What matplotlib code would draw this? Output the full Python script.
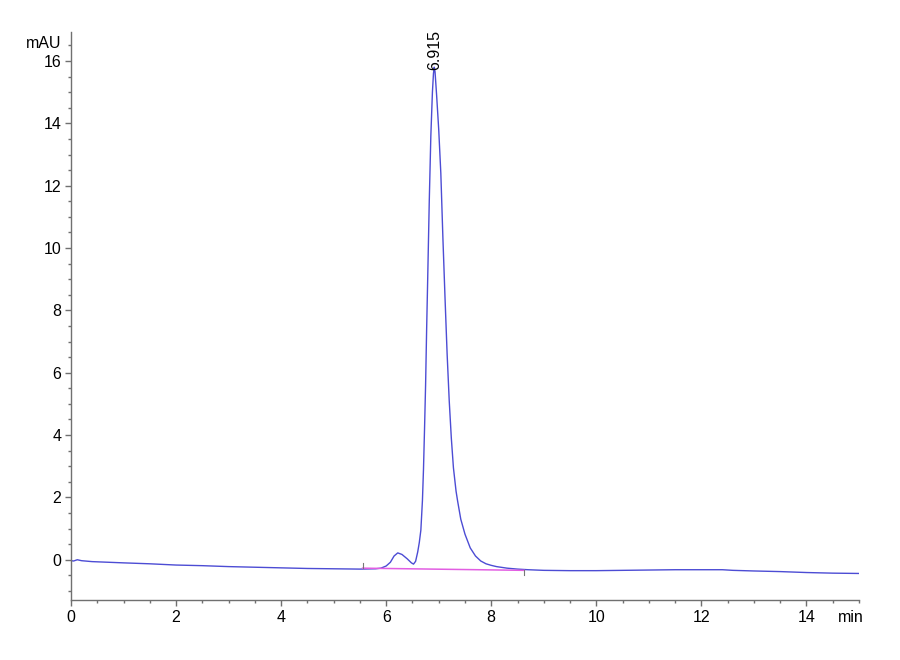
import matplotlib
matplotlib.use('Agg')
import matplotlib.pyplot as plt
from matplotlib.ticker import MultipleLocator

plt.rcParams['font.family'] = ['Liberation Sans Narrow', 'Liberation Sans', 'DejaVu Sans']

#chromatogram points (min, mAU)
time_min = [0.0, 0.05, 0.12, 0.2, 0.4, 0.7, 1.0, 1.5, 2.0, 2.5, 3.0, 3.5, 4.0, 4.5, 5.0, 5.5,
            5.8, 5.9, 6.0, 6.08, 6.15, 6.22, 6.3, 6.4, 6.48, 6.52, 6.56, 6.6, 6.63, 6.66, 6.69,
            6.71, 6.73, 6.75, 6.77, 6.79, 6.82, 6.85, 6.88, 6.90, 6.915, 6.93, 6.96, 7.0, 7.04,
            7.08, 7.12, 7.16, 7.2, 7.24, 7.28, 7.33, 7.36, 7.42, 7.5, 7.6, 7.7, 7.8, 7.9, 8.0,
            8.1, 8.3, 8.5, 8.7, 9.0, 9.5, 10.0, 10.5, 11.0, 11.5, 12.0, 12.4, 12.6, 13.0, 13.5,
            14.0, 14.5, 15.0]
signal_mau = [-0.03, -0.04, 0.0, -0.03, -0.06, -0.08, -0.10, -0.13, -0.17, -0.19, -0.22, -0.24, -0.26, -0.28, -0.29, -0.30,
              -0.29, -0.27, -0.20, -0.08, 0.12, 0.22, 0.17, 0.03, -0.10, -0.14, -0.05, 0.25, 0.55, 0.95, 1.9,
              2.9, 4.2, 5.6, 7.4, 9.0, 11.5, 13.6, 15.0, 15.6, 15.8, 15.65, 14.9, 13.8, 12.4,
              10.3, 8.4, 6.6, 5.1, 3.9, 2.95, 2.2, 1.88, 1.3, 0.82, 0.38, 0.12, -0.04, -0.13, -0.18,
              -0.22, -0.27, -0.30, -0.32, -0.34, -0.35, -0.35, -0.34, -0.33, -0.32, -0.32, -0.32, -0.34, -0.36, -0.38,
              -0.41, -0.43, -0.44]

#integration baseline
base_t = [5.55, 8.63]
base_y = [-0.27, -0.34]

peak_rt = 6.915
peak_h = 15.8

fig = plt.figure(figsize=(9, 6.6), dpi=100)
ax = fig.add_axes([0.0789, 0.0905, 0.8755, 0.861])

ax.plot(time_min, signal_mau, color='#4c4cd4', linewidth=1.0)
ax.plot(base_t, base_y, color='#e25ee2', linewidth=1.1)
#small start/end marks of the baseline
ax.plot([base_t[0], base_t[0]], [base_y[0], base_y[0] + 0.15], color='#777777', linewidth=0.8)
ax.plot([base_t[1], base_t[1]], [base_y[1], base_y[1] - 0.15], color='#777777', linewidth=0.8)

ax.text(peak_rt, peak_h - 0.1, '6.915', rotation=90, ha='center', va='bottom', fontsize=11.5)

ax.set_xlim(0, 15)
ax.set_ylim(-1.3, 16.93)
ax.set_xticks([0, 2, 4, 6, 8, 10, 12, 14])
ax.set_yticks([0, 2, 4, 6, 8, 10, 12, 14, 16])
ax.xaxis.set_minor_locator(MultipleLocator(0.5))
ax.yaxis.set_minor_locator(MultipleLocator(0.5))

for s in ['top', 'right']:
    ax.spines[s].set_visible(False)
for s in ['left', 'bottom']:
    ax.spines[s].set_color('#707070')
    ax.spines[s].set_linewidth(1.0)

ax.tick_params(which='major', direction='out', length=4, width=1, color='#707070', labelsize=11.5, pad=3)
ax.tick_params(which='minor', direction='out', length=2.5, width=1, color='#707070')

#unit labels sit where the last tick labels would be
ax.annotate('min', xy=(14.85, 0), xycoords=('data', 'axes fraction'), xytext=(0, -7),
            textcoords='offset points', ha='center', va='top', fontsize=11.5)
ax.annotate('mAU', xy=(0, 16.55), xycoords=('axes fraction', 'data'), xytext=(-7, 0),
            textcoords='offset points', ha='right', va='center', fontsize=11.5)

plt.savefig('out.png', dpi=100)
plt.close()
